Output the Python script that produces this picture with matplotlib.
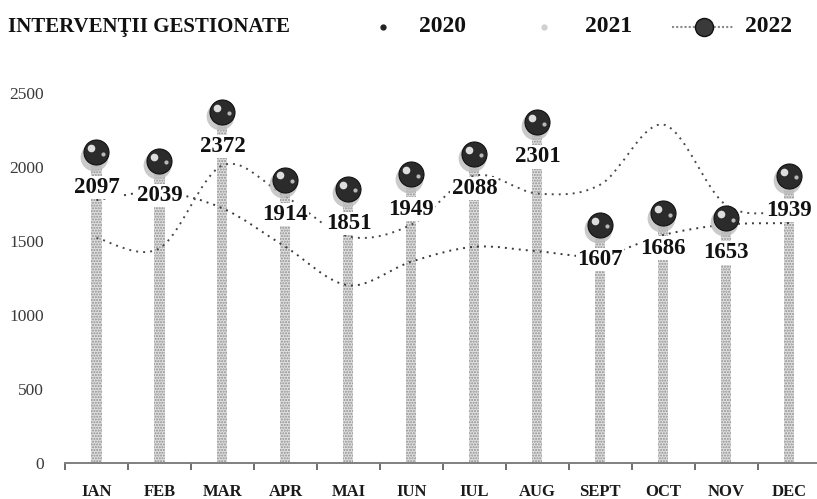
import matplotlib
matplotlib.use("Agg")
import matplotlib.pyplot as plt
from matplotlib.path import Path
from matplotlib.patches import PathPatch
from matplotlib.lines import Line2D
from matplotlib.transforms import offset_copy
import numpy as np

months = ["IAN", "FEB", "MAR", "APR", "MAI", "IUN", "IUL", "AUG", "SEPT", "OCT", "NOV", "DEC"]
values_2022 = [2097, 2039, 2372, 1914, 1851, 1949, 2088, 2301, 1607, 1686, 1653, 1939]
values_2020 = [1775, 1830, 1720, 1460, 1200, 1360, 1460, 1430, 1400, 1540, 1610, 1620]
values_2021 = [1520, 1450, 2010, 1800, 1530, 1610, 1940, 1820, 1880, 2285, 1740, 1700]
y_ticks = [0, 500, 1000, 1500, 2000, 2500]
title = "INTERVENŢII GESTIONATE"

SERIF = ["Liberation Serif", "DejaVu Serif"]

fig = plt.figure(figsize=(8.17, 4.99), dpi=100)
ax = fig.add_axes([65 / 817, 1 - 463 / 499, 1 - 65 / 817, (463 - 78) / 499])
ax.set_xlim(-0.5, 11.44)
ax.set_ylim(0, 2600)

x = np.arange(len(months))


def smooth_path(xs, ys):
    pts = np.column_stack([xs, ys]).astype(float)
    verts = [pts[0]]
    codes = [Path.MOVETO]
    n = len(pts)
    for i in range(n - 1):
        p0 = pts[i - 1] if i > 0 else pts[i]
        p1 = pts[i]
        p2 = pts[i + 1]
        p3 = pts[i + 2] if i + 2 < n else pts[i + 1]
        c1 = p1 + (p2 - p0) / 6.0
        c2 = p2 - (p3 - p1) / 6.0
        verts += [c1, c2, p2]
        codes += [Path.CURVE4] * 3
    return Path(verts, codes)


# bars (stippled columns)
ax.bar(x, values_2022, width=0.16, color="#e0e0e0", edgecolor="#8f8f8f",
       hatch="......", linewidth=0, zorder=1)

# smooth dotted lines
for vals, col in [(values_2020, "#3a3a3a"), (values_2021, "#4a4a4a")]:
    patch = PathPatch(smooth_path(x, vals), facecolor="none", edgecolor=col,
                      linewidth=1.4, linestyle=(0, (1, 2.6)), zorder=2)
    ax.add_patch(patch)

# data labels
for xi, v in zip(x, values_2022):
    ax.annotate(str(v), (xi, v), xytext=(0, -25), textcoords="offset points",
                ha="center", va="center", fontsize=16.5, fontweight="bold",
                family=SERIF, color="#111111", zorder=4,
                bbox=dict(boxstyle="square,pad=0.05", fc="white", ec="none"))

# spheres
halo_tr = offset_copy(ax.transData, fig=fig, x=-2, y=-3, units="points")
hl_tr = offset_copy(ax.transData, fig=fig, x=-4, y=3, units="points")
hl2_tr = offset_copy(ax.transData, fig=fig, x=5, y=-1, units="points")
ax.plot(x, values_2022, linestyle="none", marker="o", ms=20, mfc="#bdbdbd",
        mec="none", alpha=0.8, transform=halo_tr, zorder=5)
ax.plot(x, values_2022, linestyle="none", marker="o", ms=18, mfc="#2b2b2b",
        mec="#111111", mew=0.8, zorder=6)
ax.plot(x, values_2022, linestyle="none", marker="o", ms=5.5, mfc="#f2f2f2",
        mec="none", alpha=0.9, transform=hl_tr, zorder=7)
ax.plot(x, values_2022, linestyle="none", marker="o", ms=3, mfc="#dddddd",
        mec="none", alpha=0.8, transform=hl2_tr, zorder=7)

# axes styling
for s in ["top", "right", "left"]:
    ax.spines[s].set_visible(False)
ax.spines["bottom"].set_color("#808080")
ax.spines["bottom"].set_linewidth(1.4)
ax.set_xticks(x)
ax.set_xticklabels(months, fontsize=12, fontweight="bold", family=SERIF, color="#1a1a1a")
ax.set_xticks(np.arange(-0.5, 11.5, 1), minor=True)
ax.tick_params(axis="x", which="major", length=0, pad=15)
ax.tick_params(axis="x", which="minor", length=5, width=1.2, color="#555555", direction="out")
ax.set_yticks(y_ticks)
ax.set_yticklabels([str(t) for t in y_ticks], fontsize=12.5, family=SERIF, color="#3a3a3a")
ax.tick_params(axis="y", length=0, pad=15)

# title and legend
fig.text(8 / 817, 1 - 27 / 499, title, fontsize=15, fontweight="bold", family=SERIF,
         color="#111111", ha="left", va="center")
ly = 1 - 27 / 499
fig.add_artist(Line2D([383 / 817], [ly], marker="o", ms=3.5, color="#222222",
                      linestyle="none", transform=fig.transFigure))
fig.text(419 / 817, ly, "2020", fontsize=17, fontweight="bold", family=SERIF,
         color="#111111", ha="left", va="center")
fig.add_artist(Line2D([544 / 817], [ly], marker="o", ms=3.5, color="#d0d0d0",
                      linestyle="none", transform=fig.transFigure))
fig.text(585 / 817, ly, "2021", fontsize=17, fontweight="bold", family=SERIF,
         color="#111111", ha="left", va="center")
fig.add_artist(Line2D([672 / 817, 734 / 817], [ly, ly], color="#8a8a8a", lw=1.5,
                      linestyle=(0, (1, 1)), transform=fig.transFigure))
fig.add_artist(Line2D([704 / 817], [ly], marker="o", ms=13, mfc="#3a3a3a",
                      mec="#111111", linestyle="none", transform=fig.transFigure))
fig.text(745 / 817, ly, "2022", fontsize=17, fontweight="bold", family=SERIF,
         color="#111111", ha="left", va="center")

fig.savefig("out.png", dpi=100)
